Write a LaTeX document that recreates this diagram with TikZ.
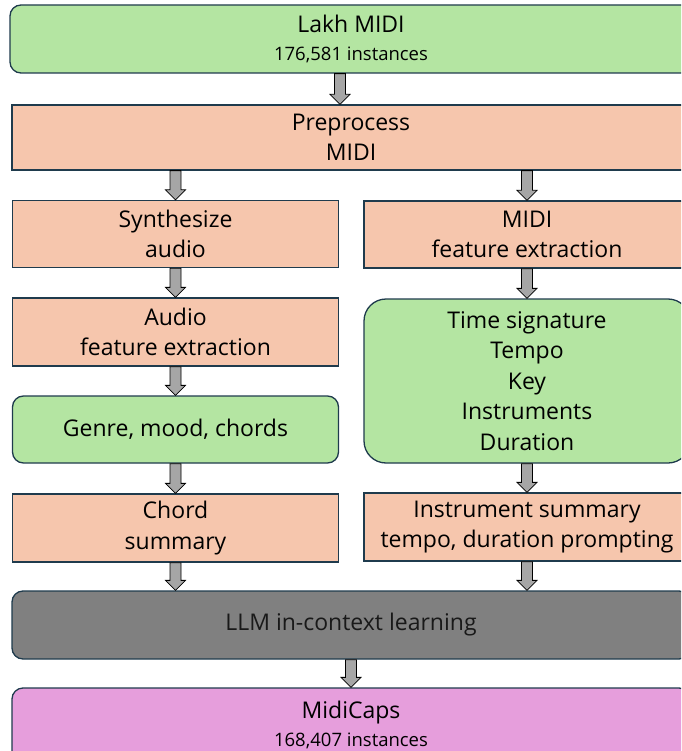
\documentclass[tikz,border=0pt]{standalone}
\usepackage{fontspec}
\setmainfont{Open Sans}
\usetikzlibrary{calc}
\definecolor{bgreen}{HTML}{B4E5A2}
\definecolor{bsalmon}{HTML}{F6C6AD}
\definecolor{bgray}{HTML}{808080}
\definecolor{bpink}{HTML}{E69EDC}
\definecolor{bdr}{HTML}{1F3B4D}
\definecolor{agray}{HTML}{A6A6A6}
\newcommand\blkarrow[2]{\draw[barrow] let \p1=(#1), \p2=(#2) in
  (\x1-5.5pt,\y1) -- (\x1-5.5pt,\y2+10pt) -- (\x1-10pt,\y2+10pt) -- (\x1,\y2)
  -- (\x1+10pt,\y2+10pt) -- (\x1+5.5pt,\y2+10pt) -- (\x1+5.5pt,\y1) -- cycle;}
\begin{document}
\begin{tikzpicture}[x=1pt,y=-1pt,
  box/.style={draw=bdr, line width=1.3pt, inner sep=0pt, align=center,
    font=\fontsize{23}{30.5}\selectfont},
  salbox/.style={box, fill=bsalmon},
  rbox/.style={box, rounded corners=11pt},
  barrow/.style={draw=black, line width=0.8pt, fill=agray}]
\useasboundingbox (0,0) rectangle (681,751);
\clip (0,0) rectangle (681,751);
\node[rbox, fill=bgreen, minimum width=682pt, minimum height=68pt] (lakh) at (351,39)
  {Lakh MIDI\\[-3pt]{\fontsize{18.5}{22}\selectfont 176,581 instances}};
\node[salbox, minimum width=678pt, minimum height=65pt] (pre) at (351,137.5) {Preprocess\\MIDI};
\node[salbox, minimum width=326pt, minimum height=67pt] (syn) at (175.5,234) {Synthesize\\audio};
\node[salbox, minimum width=326pt, minimum height=68pt] (aud) at (175.5,332) {Audio\\feature extraction};
\node[rbox, fill=bgreen, minimum width=326pt, minimum height=67pt] (gen) at (175.5,429.5) {Genre, mood, chords};
\node[salbox, minimum width=326pt, minimum height=68pt] (cho) at (175.5,528) {Chord\\summary};
\node[salbox, minimum width=326pt, minimum height=67pt] (mid) at (527,234.5) {MIDI\\feature extraction};
\node[box, rounded corners=22pt, fill=bgreen, minimum width=326pt, minimum height=164pt] (fea) at (527,381)
  {Time signature\\Tempo\\Key\\Instruments\\Duration};
\node[salbox, minimum width=326pt, minimum height=68pt] (ins) at (527,527)
  {Instrument summary\\tempo, duration prompting};
\node[rbox, fill=bgray, minimum width=678pt, minimum height=68pt, text=black!90] (llm) at (351,625)
  {LLM in-context learning};
\node[rbox, fill=bpink, minimum width=678pt, minimum height=74pt] (caps) at (351,725)
  {MidiCaps\\[-3pt]{\fontsize{18.5}{22}\selectfont 168,407 instances}};
\blkarrow{$(lakh.south)+(-11,0)$}{$(pre.north)+(-11,0)$}
\blkarrow{syn.north |- pre.south}{syn.north}
\blkarrow{mid.north |- pre.south}{mid.north}
\blkarrow{syn.south}{aud.north}
\blkarrow{aud.south}{gen.north}
\blkarrow{gen.south}{cho.north}
\blkarrow{mid.south}{fea.north}
\blkarrow{fea.south}{ins.north}
\blkarrow{cho.south}{cho.south |- llm.north}
\blkarrow{ins.south}{ins.south |- llm.north}
\blkarrow{llm.south}{caps.north}
\end{tikzpicture}
\end{document}
